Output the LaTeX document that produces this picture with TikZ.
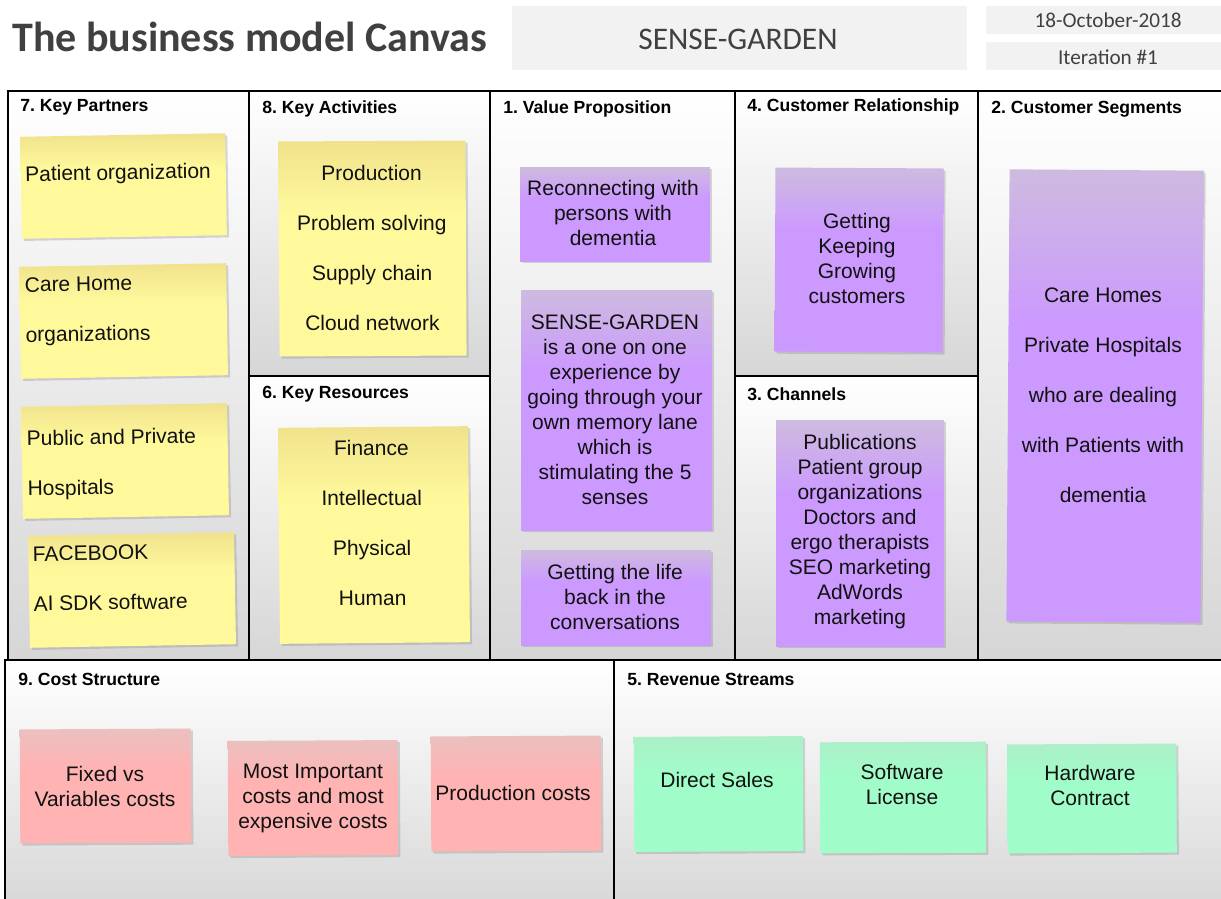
\documentclass[tikz,border=0pt]{standalone}
\usepackage{fontspec}
\setmainfont{Liberation Sans}
\newfontfamily\calib{Carlito}
\usetikzlibrary{shadows}
\frenchspacing

\definecolor{ylT}{HTML}{F0E28C}
\definecolor{ylB}{HTML}{FFF99C}
\definecolor{puT}{HTML}{CDBBDF}
\definecolor{puB}{HTML}{CC99FF}
\definecolor{pkT}{HTML}{EBC0C0}
\definecolor{pkB}{HTML}{FFB3B3}
\definecolor{gnT}{HTML}{ACEFC8}
\definecolor{gnB}{HTML}{A0FDC9}
\definecolor{hdrgray}{HTML}{F2F2F2}
\definecolor{titlegray}{HTML}{404040}
\definecolor{cellgray}{HTML}{D6D6D6}
\definecolor{inkc}{HTML}{111111}

% sticky-note shadings: tinted band along the top, flat colour below
\pgfdeclareverticalshading{yelnote}{100bp}{color(0bp)=(ylB); color(25bp)=(ylB); color(58bp)=(ylB); color(75bp)=(ylT); color(100bp)=(ylT)}
\pgfdeclareverticalshading{purnote}{100bp}{color(0bp)=(puB); color(25bp)=(puB); color(58bp)=(puB); color(75bp)=(puT); color(100bp)=(puT)}
\pgfdeclareverticalshading{pinknote}{100bp}{color(0bp)=(pkB); color(25bp)=(pkB); color(58bp)=(pkB); color(75bp)=(pkT); color(100bp)=(pkT)}
\pgfdeclareverticalshading{grnnote}{100bp}{color(0bp)=(gnB); color(25bp)=(gnB); color(58bp)=(gnB); color(75bp)=(gnT); color(100bp)=(gnT)}

\tikzset{
  cell/.style={top color=white, middle color=black!3, bottom color=cellgray},
  gridline/.style={line width=1.6pt, black},
  head/.style={anchor=west, inner sep=0pt, text=black,
    font=\fontsize{13.2}{15}\selectfont\bfseries},
  notebase/.style={draw=none, inner sep=0pt,
    drop shadow={shadow xshift=1.6pt, shadow yshift=-1.6pt, opacity=0.3}},
  sz/.style 2 args={minimum width=#1*0.75pt, minimum height=#2*0.75pt},
  yel/.style={notebase, shading=yelnote},
  pur/.style={notebase, shading=purnote},
  pnk/.style={notebase, shading=pinknote},
  grn/.style={notebase, shading=grnnote},
  ntxt/.style={inner sep=0pt, align=center, text=inkc,
    font=\fontsize{15.75}{18.75}\selectfont},
  wtxt/.style={inner sep=0pt, align=center, text=inkc,
    font=\fontsize{15.75}{37.5}\selectfont},
  ltxt/.style={wtxt, align=left, anchor=west},
}

\begin{document}
\begin{tikzpicture}[x=0.75pt, y=-0.75pt]
\useasboundingbox (0,0) rectangle (1221,899);
\fill[white] (0,0) rectangle (1221,899);

\begin{scope}
\clip (0,0) rectangle (1221,899);
% header boxes
\fill[hdrgray] (512,6) rectangle (967,70);
\fill[hdrgray] (986,6) rectangle (1240,34);
\fill[hdrgray] (986,42) rectangle (1240,70);
% canvas cells
\shade[cell] (8,91) rectangle (249,660);
\shade[cell] (249,91) rectangle (490,376);
\shade[cell] (249,376) rectangle (490,660);
\shade[cell] (490,91) rectangle (735,660);
\shade[cell] (735,91) rectangle (978,376);
\shade[cell] (735,376) rectangle (978,660);
\shade[cell] (978,91) rectangle (1240,660);
\shade[cell] (5,660) rectangle (614,920);
\shade[cell] (614,660) rectangle (1240,920);
% cell borders
\draw[gridline] (8,91) rectangle (1240,660);
\draw[gridline] (249,91) -- (249,660);
\draw[gridline] (490,91) -- (490,660);
\draw[gridline] (735,91) -- (735,660);
\draw[gridline] (978,91) -- (978,660);
\draw[gridline] (249,376) -- (490,376);
\draw[gridline] (735,376) -- (978,376);
\draw[gridline] (5,920) -- (5,660) -- (1240,660);
\draw[gridline] (614,660) -- (614,920);
\end{scope}

% title row
\node[anchor=base west, inner sep=0pt, text=titlegray,
  font={\fontsize{31.5}{36}\calib\bfseries}] (title) at (12,52) {The business model Canvas};
\node[inner sep=0pt, text=titlegray, font={\fontsize{23.6}{28}\calib}] (project) at (738,39) {SENSE-GARDEN};
\node[inner sep=0pt, text=titlegray, font={\fontsize{15.9}{18}\calib}] (date) at (1108,20) {18-October-2018};
\node[inner sep=0pt, text=titlegray, font={\fontsize{15.9}{18}\calib}] (iter) at (1108,57) {Iteration \#1};

% block headings
\node[head] (hKP) at (20,107) {7. Key Partners};
\node[head] (hKA) at (262,109) {8. Key Activities};
\node[head] (hVP) at (503,109) {1. Value Proposition};
\node[head] (hCR) at (747,107) {4. Customer Relationship};
\node[head] (hCS) at (991,109) {2. Customer Segments};
\node[head] (hKR) at (262,394) {6. Key Resources};
\node[head] (hCH) at (747,394) {3. Channels};
\node[head] (hCO) at (18,679) {9. Cost Structure};
\node[head] (hRS) at (627,679) {5. Revenue Streams};

% key partners
\node[yel, sz={205}{102}, rotate=1] (n1) at (123.5,186) {};
\node[ltxt, rotate=1] (t1) at (25,176) {Patient organization};
\node[yel, sz={207}{112}, rotate=1] (n2) at (123.5,321) {};
\node[ltxt, rotate=1] (t2) at (25,312) {Care Home\\organizations};
\node[yel, sz={206}{112}, rotate=1] (n3) at (125,461) {};
\node[ltxt, rotate=1] (t3) at (27,465.5) {Public and Private\\Hospitals};
\node[yel, sz={206}{112}, rotate=1] (n4) at (132,590) {};
\node[ltxt, rotate=1] (t4) at (33,579) {FACEBOOK\\AI SDK software};

% key activities and resources
\node[yel, sz={187}{215}, rotate=0.3] (n5) at (372.5,248.5) {};
\node[wtxt, rotate=0.3] (t5) at (372,248) {Production\\Problem solving\\Supply chain\\Cloud network};
\node[yel, sz={190}{216}, rotate=0.5] (n6) at (374,535) {};
\node[wtxt, rotate=0.5] (t6) at (372,523) {Finance\\Intellectual\\Physical\\Human};

% value proposition
\node[pur, sz={190}{94}] (n7) at (615,214) {};
\node[ntxt] (t7) at (613,213) {Reconnecting with\\persons with\\dementia};
\node[pur, sz={191}{240}] (n8) at (616.5,410) {};
\node[ntxt] (t8) at (615,409.5) {SENSE-GARDEN\\is a one on one\\experience by\\going through your\\own memory lane\\which is\\stimulating the 5\\senses};
\node[pur, sz={190}{95}] (n9) at (616,597.5) {};
\node[ntxt] (t9) at (615,597) {Getting the life\\back in the\\conversations};

% customer relationship and channels
\node[pur, sz={168}{184}, rotate=-0.3] (n10) at (859,260) {};
\node[ntxt] (t10) at (857,258.5) {Getting\\Keeping\\Growing\\customers};
\node[pur, sz={168}{226}] (n11) at (860,533) {};
\node[ntxt] (t11) at (860,531.5) {Publications\\Patient group\\organizations\\Doctors and\\ergo therapists\\SEO marketing\\AdWords\\marketing};

% customer segments
\node[pur, sz={194}{452}, rotate=-0.4] (n12) at (1105,396) {};
\node[wtxt] (t12) at (1103,395) {Care Homes\\Private Hospitals\\who are dealing\\with Patients with\\dementia};

% cost structure
\node[pnk, sz={171}{114}, rotate=0.3] (n13) at (105.5,786) {};
\node[ntxt] (t13) at (105,786.5) {Fixed vs\\Variables costs};
\node[pnk, sz={170}{115}, rotate=0.3] (n14) at (313,798) {};
\node[ntxt] (t14) at (313,798) {Most Important\\costs and most\\expensive costs};
\node[pnk, sz={170}{115}, rotate=0.3] (n15) at (516,793.5) {};
\node[ntxt] (t15) at (513,793) {Production costs};

% revenue streams
\node[grn, sz={169}{115}, rotate=0.3] (n16) at (718.5,794) {};
\node[ntxt] (t16) at (717,780) {Direct Sales};
\node[grn, sz={166}{111}, rotate=0.2] (n17) at (903,797.5) {};
\node[ntxt] (t17) at (902,784.5) {Software\\License};
\node[grn, sz={169}{109}, rotate=0.3] (n18) at (1092,798.5) {};
\node[ntxt] (t18) at (1090,785.5) {Hardware\\Contract};
\end{tikzpicture}
\end{document}
